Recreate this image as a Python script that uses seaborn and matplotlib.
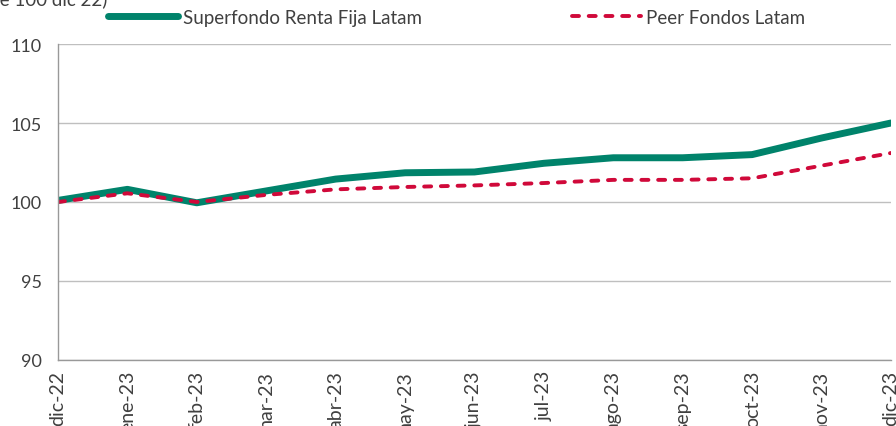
import numpy as np
import pandas as pd
import seaborn as sns
import matplotlib.pyplot as plt

# data
months = ["dic-22", "ene-23", "feb-23", "mar-23", "abr-23", "may-23", "jun-23",
          "jul-23", "ago-23", "sep-23", "oct-23", "nov-23", "dic-23"]
superfondo = [100.1, 100.8, 99.95, 100.7, 101.45, 101.85, 101.9,
              102.45, 102.8, 102.8, 103.0, 104.05, 105.0]
peer = [100.0, 100.55, 100.0, 100.45, 100.8, 100.95, 101.05,
        101.2, 101.4, 101.4, 101.5, 102.3, 103.1]
y_ticks = [90, 95, 100, 105, 110]

df = pd.DataFrame({"mes": np.arange(len(months)),
                   "Superfondo Renta Fija Latam": superfondo,
                   "Peer Fondos Latam": peer})

sns.set_style("white")
plt.rcParams["font.family"] = ["Lato", "DejaVu Sans"]
text_col = "#404040"
green = "#00836B"
red = "#D0093A"

fig = plt.figure(figsize=(8.96, 4.27), dpi=100)
ax = fig.add_axes([0.0647, 0.1546, 0.9297, 0.74])

sns.lineplot(data=df, x="mes", y="Superfondo Renta Fija Latam", color=green,
             linewidth=5.0, solid_capstyle="round", solid_joinstyle="round",
             label="Superfondo Renta Fija Latam", ax=ax)
sns.lineplot(data=df, x="mes", y="Peer Fondos Latam", color=red,
             linewidth=2.8, label="Peer Fondos Latam", ax=ax)
ax.lines[-1].set_dashes((1.8, 2.5))
ax.lines[-1].set_dash_capstyle("round")

ax.set_xlim(0, len(months) - 1)
ax.set_ylim(90, 110)
ax.set_yticks(y_ticks)
ax.set_xticks(df["mes"])
ax.set_xticklabels(months, rotation=90, va="top", ha="center")
ax.set_xlabel("")
ax.set_ylabel("")
ax.tick_params(axis="both", colors="#808080", labelcolor=text_col,
               length=4.3, width=1, direction="out")
ax.tick_params(axis="x", labelsize=14, pad=3)
ax.tick_params(axis="y", labelsize=13, pad=7.5)
ax.grid(axis="y", color="#BFBFBF", linewidth=1)
ax.set_axisbelow(True)
for s in ["top", "right"]:
    ax.spines[s].set_visible(False)
for s in ["left", "bottom"]:
    ax.spines[s].set_color("#999999")
    ax.spines[s].set_linewidth(1)

leg = ax.legend(ncol=2, loc="center", bbox_to_anchor=(0.479, 1.085),
                frameon=False, fontsize=13.5, handlelength=3.7,
                columnspacing=8.0, handletextpad=0.27)
for t in leg.get_texts():
    t.set_color(text_col)

fig.text(107 / 896, 1 - 5 / 427, "Rentabilidad acumulada (base 100 dic 22)",
         ha="right", va="baseline", fontsize=13.5, color=text_col)

fig.savefig("out.png", dpi=100)
